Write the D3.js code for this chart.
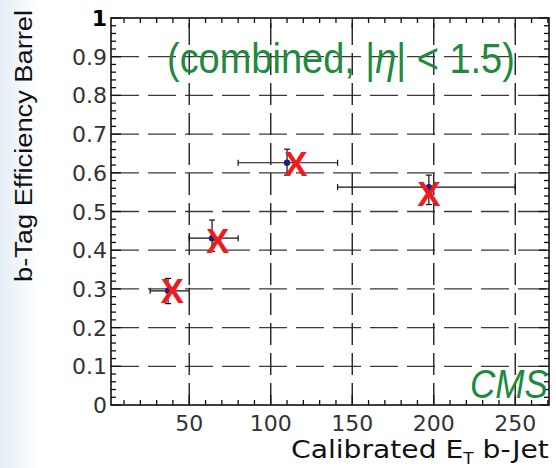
<!DOCTYPE html>
<html>
<head>
<meta charset="utf-8">
<script src="https://cdn.jsdelivr.net/npm/d3@7"></script>
<style>
  body { margin: 0; background: #fff; }
  svg { display: block; }
</style>
</head>
<body>
<div id="chart"></div>
<script>
// measured points (blue) with error bars
var ptX = [37, 64, 110, 197];
var ptY = [0.295, 0.431, 0.626, 0.563];
var xLo = [26, 50, 80, 141];
var xHi = [50, 80, 141, 250];
var yLo = [0.262, 0.397, 0.594, 0.518];
var yHi = [0.327, 0.478, 0.661, 0.594];
// red X markers
var crossX = [39.5, 67.5, 115.5, 197];
var crossY = [0.297, 0.425, 0.624, 0.547];

var xMajor = [50, 100, 150, 200, 250];
var yMajor = [0, 0.1, 0.2, 0.3, 0.4, 0.5, 0.6, 0.7, 0.8, 0.9, 1];
var yLabels = ["0", "0.1", "0.2", "0.3", "0.4", "0.5", "0.6", "0.7", "0.8", "0.9", "1"];

var W = 556, H = 468;
var x = d3.scaleLinear().domain([2, 270.7]).range([111, 549]);
var y = d3.scaleLinear().domain([0, 1]).range([405, 18]);

var svg = d3.select("#chart").append("svg")
  .attr("width", W).attr("height", H);

// faint bluish slide background on the left
var defs = svg.append("defs");
var grad = defs.append("linearGradient").attr("id", "bg").attr("x1", 0).attr("x2", 1);
grad.append("stop").attr("offset", "0%").attr("stop-color", "#dde9f5");
grad.append("stop").attr("offset", "100%").attr("stop-color", "#ffffff");
svg.append("rect").attr("x", 0).attr("y", 0).attr("width", 40).attr("height", H)
  .attr("fill", "url(#bg)").attr("opacity", 0.8);

// grid
var grid = svg.append("g");
grid.selectAll(".hg").data(yMajor.slice(1, 10)).enter().append("line")
  .attr("x1", x.range()[0]).attr("x2", x.range()[1])
  .attr("y1", d => y(d)).attr("y2", d => y(d))
  .attr("stroke", "#3a3a3a").attr("stroke-width", 1.3)
  .attr("stroke-dasharray", "28,9");
grid.selectAll(".vg").data(xMajor).enter().append("line")
  .attr("x1", d => x(d)).attr("x2", d => x(d))
  .attr("y1", y(0)).attr("y2", y(1))
  .attr("stroke", "#222").attr("stroke-width", 1.4)
  .attr("stroke-dasharray", "22,8");

// ticks (inward, all four sides)
var xMinor = d3.range(10, 271, 10);
var yMinor = d3.range(0, 1.0001, 0.02);
var ticks = svg.append("g").attr("stroke", "#111").attr("stroke-width", 1.3);
xMinor.forEach(function (v) {
  var len = v % 50 === 0 ? 10 : 5;
  ticks.append("line").attr("x1", x(v)).attr("x2", x(v)).attr("y1", y(0)).attr("y2", y(0) - len);
  ticks.append("line").attr("x1", x(v)).attr("x2", x(v)).attr("y1", y(1)).attr("y2", y(1) + len);
});
yMinor.forEach(function (v) {
  var major = Math.abs(v * 10 - Math.round(v * 10)) < 1e-6;
  var len = major ? 10 : 5;
  ticks.append("line").attr("x1", x.range()[0]).attr("x2", x.range()[0] + len).attr("y1", y(v)).attr("y2", y(v));
  ticks.append("line").attr("x1", x.range()[1]).attr("x2", x.range()[1] - len).attr("y1", y(v)).attr("y2", y(v));
});

// frame
svg.append("rect")
  .attr("x", x.range()[0]).attr("y", y(1))
  .attr("width", x.range()[1] - x.range()[0]).attr("height", y(0) - y(1))
  .attr("fill", "none").attr("stroke", "#111").attr("stroke-width", 1.6);

// tick labels
svg.selectAll(".xl").data(xMajor).enter().append("text")
  .attr("x", d => x(d)).attr("y", 431)
  .attr("text-anchor", "middle")
  .attr("font-family", "DejaVu Sans").attr("font-size", 22).attr("fill", "#333")
  .text(d => d);
svg.selectAll(".yl").data(yMajor).enter().append("text")
  .attr("x", 107).attr("y", d => y(d) + 8)
  .attr("text-anchor", "end")
  .attr("font-family", "DejaVu Sans")
  .attr("font-size", 22)
  .attr("font-weight", (d, i) => i === 10 ? "bold" : "normal")
  .attr("fill", (d, i) => i === 10 ? "#000" : "#333")
  .text((d, i) => yLabels[i]);

// squeeze a text node horizontally so it spans `w` pixels from (x0, y0)
function fitWidth(sel, x0, y0, w) {
  var n = sel.node().getComputedTextLength();
  sel.attr("transform", "translate(" + x0 + "," + y0 + ") scale(" + (w / n) + ",1)");
}

// axis titles
svg.append("text")
  .attr("transform", "translate(32,146) rotate(-90)")
  .attr("text-anchor", "middle")
  .attr("font-family", "Liberation Sans").attr("font-size", 23)
  .attr("fill", "#111")
  .attr("textLength", 272).attr("lengthAdjust", "spacingAndGlyphs")
  .text("b-Tag Efficiency Barrel");

var xt = svg.append("text")
  .attr("font-family", "DejaVu Sans").attr("font-size", 25)
  .attr("fill", "#111");
xt.append("tspan").text("Calibrated E");
xt.append("tspan").attr("font-size", 15).attr("dy", 6).text("T");
xt.append("tspan").attr("dy", -6).text(" b-Jet");
fitWidth(xt, 291, 458, 258);

// error bars
var eb = svg.append("g").attr("stroke", "#111").attr("stroke-width", 1.2);
ptX.forEach(function (v, i) {
  eb.append("line").attr("x1", x(xLo[i])).attr("x2", x(xHi[i])).attr("y1", y(ptY[i])).attr("y2", y(ptY[i]));
  eb.append("line").attr("x1", x(xLo[i])).attr("x2", x(xLo[i])).attr("y1", y(ptY[i]) - 3).attr("y2", y(ptY[i]) + 3);
  eb.append("line").attr("x1", x(xHi[i])).attr("x2", x(xHi[i])).attr("y1", y(ptY[i]) - 3).attr("y2", y(ptY[i]) + 3);
  eb.append("line").attr("x1", x(v)).attr("x2", x(v)).attr("y1", y(yLo[i])).attr("y2", y(yHi[i]));
  eb.append("line").attr("x1", x(v) - 3).attr("x2", x(v) + 3).attr("y1", y(yLo[i])).attr("y2", y(yLo[i]));
  eb.append("line").attr("x1", x(v) - 3).attr("x2", x(v) + 3).attr("y1", y(yHi[i])).attr("y2", y(yHi[i]));
});
svg.selectAll(".pt").data(ptX).enter().append("circle")
  .attr("cx", d => x(d)).attr("cy", (d, i) => y(ptY[i]))
  .attr("r", 3.2).attr("fill", "#1c1c8a");

// red crosses
svg.selectAll(".cross").data(crossX).enter().append("text")
  .attr("x", d => x(d)).attr("y", (d, i) => y(crossY[i]) + 12.5)
  .attr("text-anchor", "middle")
  .attr("font-family", "Liberation Sans").attr("font-weight", "bold")
  .attr("font-size", 35).attr("fill", "#ee1d1d")
  .text("X");

// annotations
var ttl = svg.append("text")
  .attr("font-family", "Liberation Sans").attr("font-size", 43)
  .attr("fill", "#1f8a3e");
ttl.append("tspan").text("(combined, |");
ttl.append("tspan").attr("font-style", "italic").text("η");
ttl.append("tspan").text("| < 1.5)");
fitWidth(ttl, 167, 73, 348);

var cms = svg.append("text")
  .attr("font-family", "Liberation Sans").attr("font-style", "italic")
  .attr("font-size", 40).attr("fill", "#1f8a3e")
  .text("CMS");
fitWidth(cms, 470, 398, 78);
</script>
</body>
</html>
